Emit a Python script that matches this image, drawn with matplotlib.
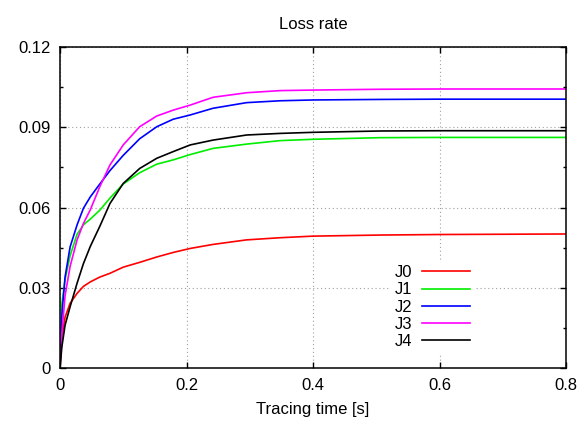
import matplotlib
matplotlib.use('Agg')
import matplotlib.pyplot as plt
from matplotlib.ticker import MultipleLocator

plt.rcParams['font.family'] = ['Liberation Sans', 'DejaVu Sans']

# Tracing time [s] sample points
t = [0, 0.003, 0.008, 0.016, 0.027, 0.037, 0.048, 0.063, 0.079, 0.1, 0.126,
     0.153, 0.179, 0.206, 0.242, 0.295, 0.348, 0.4, 0.506, 0.6, 0.8]

j0 = [0, 0.0117, 0.019, 0.0242, 0.0279, 0.0305, 0.0322, 0.034, 0.0354, 0.0377, 0.0395,
      0.0415, 0.0432, 0.0447, 0.0462, 0.0479, 0.0487, 0.0493, 0.0497, 0.0499, 0.0501]
j1 = [0, 0.024, 0.033, 0.042, 0.050, 0.0535, 0.0557, 0.059, 0.0635, 0.0688, 0.073,
      0.0762, 0.0778, 0.0798, 0.0821, 0.0837, 0.085, 0.0855, 0.0861, 0.0862, 0.0862]
j2 = [0, 0.02, 0.034, 0.0453, 0.0535, 0.0597, 0.064, 0.0688, 0.0738, 0.0795, 0.0857,
      0.0902, 0.093, 0.0946, 0.0971, 0.0992, 0.0999, 0.1002, 0.1004, 0.1005, 0.1005]
j3 = [0, 0.013, 0.027, 0.038, 0.0479, 0.054, 0.0592, 0.0678, 0.0759, 0.0834, 0.0902,
      0.0942, 0.0964, 0.0983, 0.1012, 0.1029, 0.1037, 0.1039, 0.1042, 0.1043, 0.1043]
j4 = [0, 0.008, 0.016, 0.0229, 0.0317, 0.039, 0.0455, 0.053, 0.0615, 0.069, 0.0746,
      0.0784, 0.0809, 0.0834, 0.0852, 0.0871, 0.0877, 0.0881, 0.0886, 0.0887, 0.0887]

series_names = ['J0', 'J1', 'J2', 'J3', 'J4']
series_colors = ['#ff0000', '#00ee00', '#0000ff', '#ff00ff', '#000000']

x_ticks = [0, 0.2, 0.4, 0.6, 0.8]
x_labels = ['0', '0.2', '0.4', '0.6', '0.8']
y_ticks = [0, 0.03, 0.06, 0.09, 0.12]
y_labels = ['0', '0.03', '0.06', '0.09', '0.12']

fig = plt.figure(figsize=(5.8, 4.21), dpi=100)
ax = fig.add_axes([60 / 580, 1 - 368 / 421, 506 / 580, 321 / 421])

for name, ys, col in zip(series_names, [j0, j1, j2, j3, j4], series_colors):
    ax.plot(t, ys, color=col, lw=1.2, label=name)

ax.set_xlim(0, 0.8)
ax.set_ylim(0, 0.12)
ax.set_xticks(x_ticks)
ax.set_xticklabels(x_labels)
ax.set_yticks(y_ticks)
ax.set_yticklabels(y_labels)
ax.yaxis.set_minor_locator(MultipleLocator(0.015))

ax.grid(True, which='major', linestyle=(0, (1, 2.5)), color='#a0a0a0', lw=0.8)
ax.tick_params(which='major', direction='in', length=4.5, width=1, top=True, right=True,
               labelsize=12, pad=7)
ax.tick_params(which='minor', direction='in', length=2.5, width=1, left=True, right=True)
for sp in ax.spines.values():
    sp.set_linewidth(1.1)

ax.set_title('Loss rate', fontsize=12, pad=13)
ax.set_xlabel('Tracing time [s]', fontsize=12, labelpad=7)

leg = ax.legend(loc='center', bbox_to_anchor=(0.736, 0.19), markerfirst=False,
                fontsize=12, handlelength=2.9, handletextpad=0.6, labelspacing=0.13,
                borderpad=0.3, fancybox=False, framealpha=1, edgecolor='none')

plt.savefig('out.png', dpi=100)
